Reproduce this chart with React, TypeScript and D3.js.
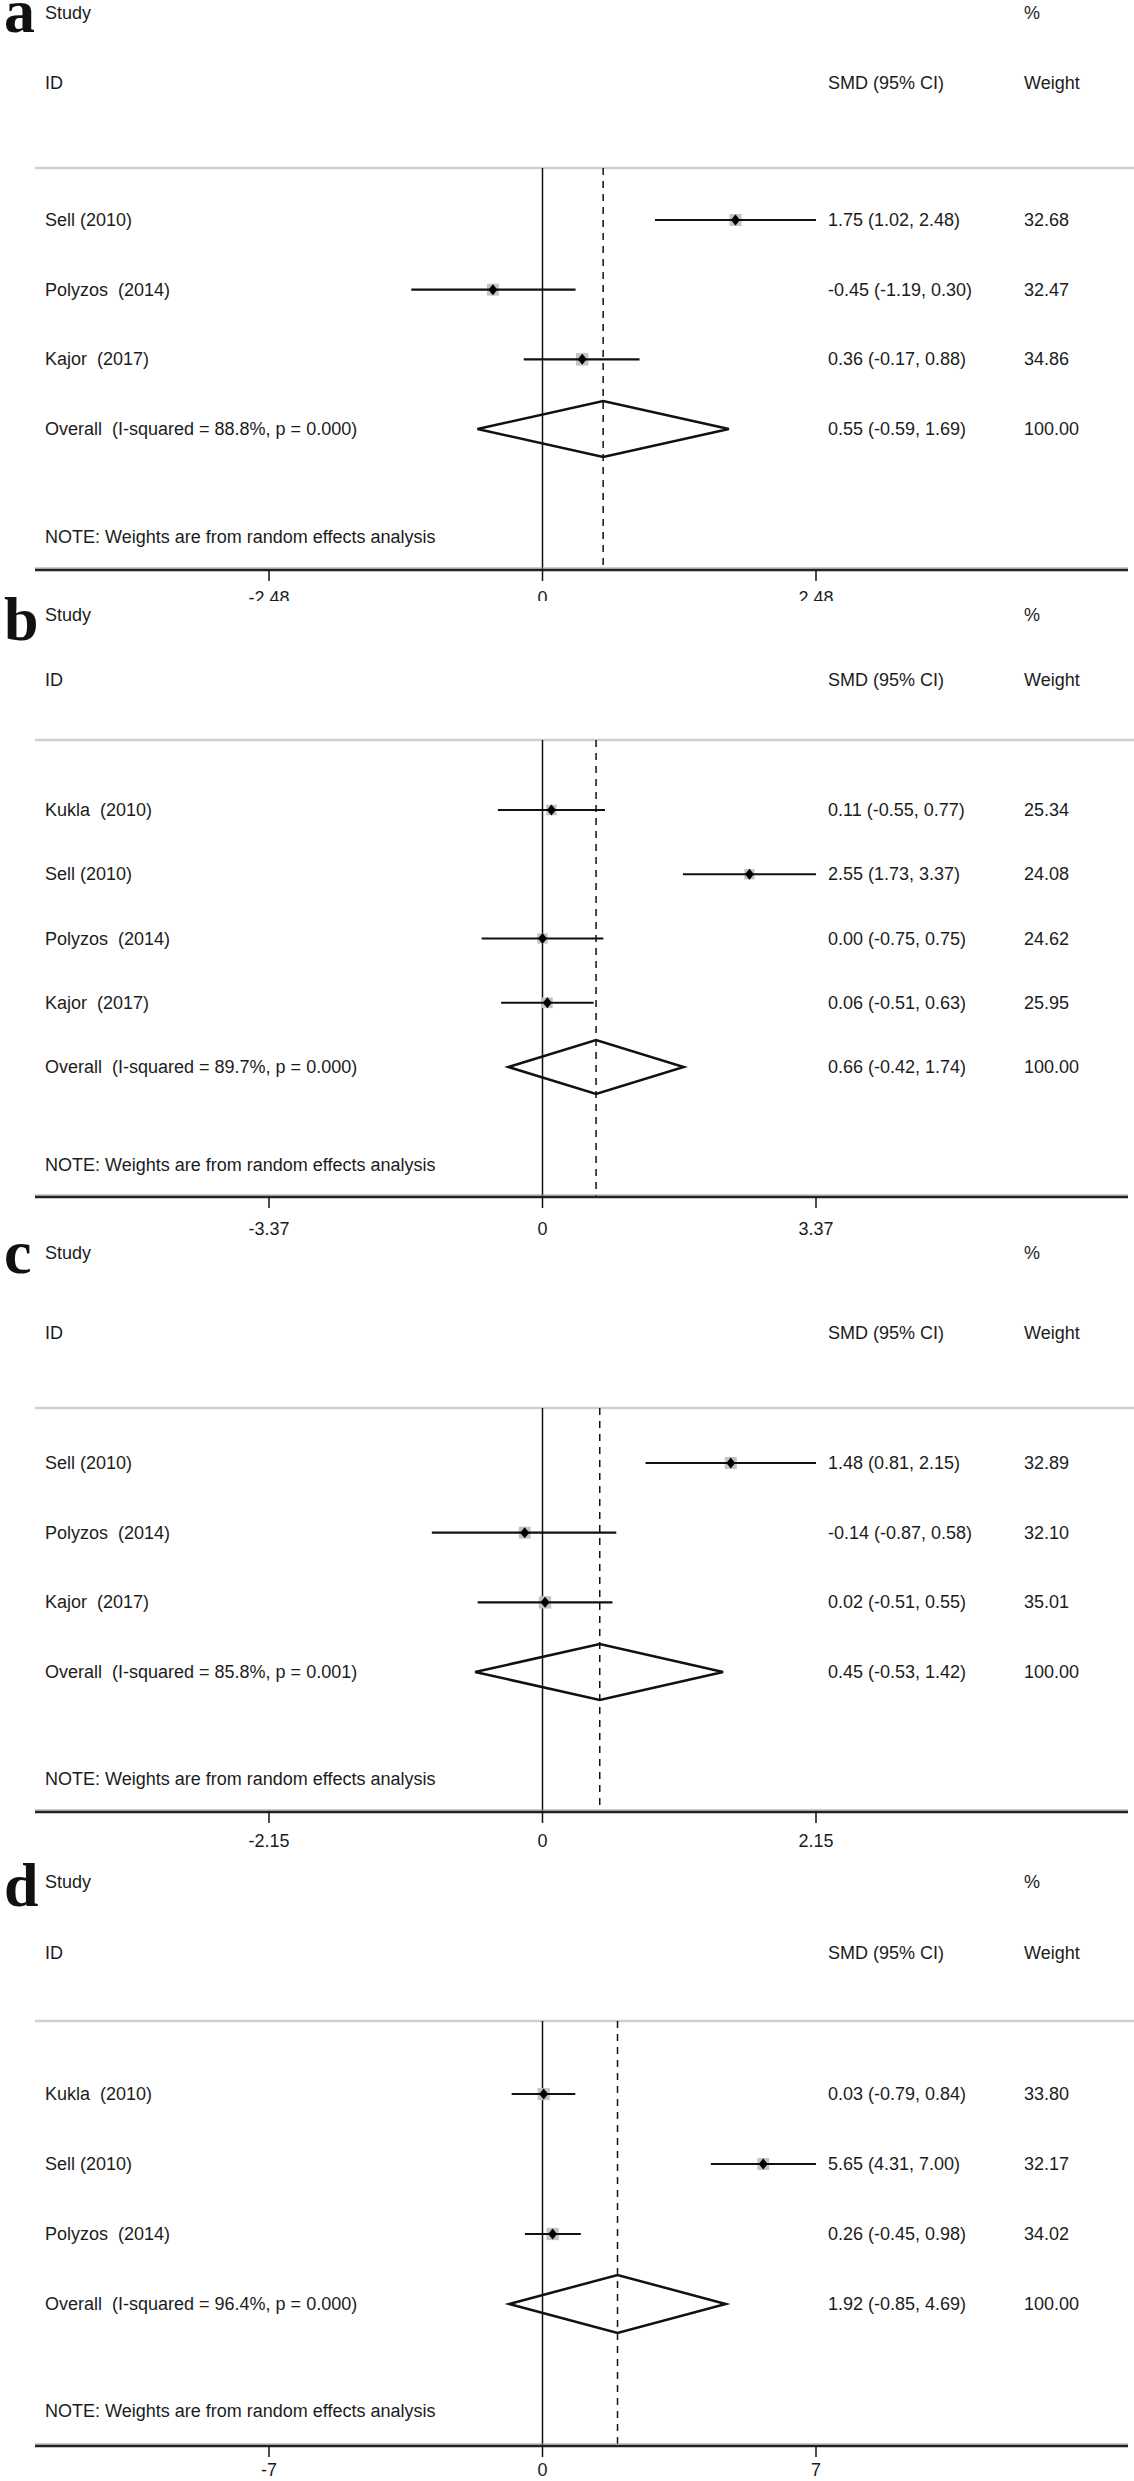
import React from "react";
import * as d3 from "d3";

// ---------- DATA ----------
const studiesA = ["Sell (2010)", "Polyzos  (2014)", "Kajor  (2017)"];
const smdA = [1.75, -0.45, 0.36];
const lowerA = [1.02, -1.19, -0.17];
const upperA = [2.48, 0.3, 0.88];
const weightA = [32.68, 32.47, 34.86];
const overallA = [0.55, -0.59, 1.69];
const overallLabelA = "Overall  (I-squared = 88.8%, p = 0.000)";
const ticksA = [-2.48, 0, 2.48];

const studiesB = ["Kukla  (2010)", "Sell (2010)", "Polyzos  (2014)", "Kajor  (2017)"];
const smdB = [0.11, 2.55, 0.0, 0.06];
const lowerB = [-0.55, 1.73, -0.75, -0.51];
const upperB = [0.77, 3.37, 0.75, 0.63];
const weightB = [25.34, 24.08, 24.62, 25.95];
const overallB = [0.66, -0.42, 1.74];
const overallLabelB = "Overall  (I-squared = 89.7%, p = 0.000)";
const ticksB = [-3.37, 0, 3.37];

const studiesC = ["Sell (2010)", "Polyzos  (2014)", "Kajor  (2017)"];
const smdC = [1.48, -0.14, 0.02];
const lowerC = [0.81, -0.87, -0.51];
const upperC = [2.15, 0.58, 0.55];
const weightC = [32.89, 32.1, 35.01];
const overallC = [0.45, -0.53, 1.42];
const overallLabelC = "Overall  (I-squared = 85.8%, p = 0.001)";
const ticksC = [-2.15, 0, 2.15];

const studiesD = ["Kukla  (2010)", "Sell (2010)", "Polyzos  (2014)"];
const smdD = [0.03, 5.65, 0.26];
const lowerD = [-0.79, 4.31, -0.45];
const upperD = [0.84, 7.0, 0.98];
const weightD = [33.8, 32.17, 34.02];
const overallD = [1.92, -0.85, 4.69];
const overallLabelD = "Overall  (I-squared = 96.4%, p = 0.000)";
const ticksD = [-7, 0, 7];

const noteText = "NOTE: Weights are from random effects analysis";

// ---------- LAYOUT ----------
const W = 1134;
const H = 2481;
const FONT = "'Liberation Sans', Arial, Helvetica, sans-serif";
const TXT = "#1c1c1c";

type Layout = {
  letterY: number; studyY: number; idY: number; greyY: number;
  firstRowY: number; overallY: number; noteY: number; axisY: number; tickLabelY: number;
  halfDiamond: number; clipBottom?: number;
};

const layouts: Layout[] = [
  { letterY: 32, studyY: 13, idY: 83, greyY: 168, firstRowY: 220, overallY: 429, noteY: 537, axisY: 570, tickLabelY: 598, halfDiamond: 28, clipBottom: 601 },
  { letterY: 640, studyY: 615, idY: 680, greyY: 740, firstRowY: 810, overallY: 1067, noteY: 1165, axisY: 1197, tickLabelY: 1229, halfDiamond: 27 },
  { letterY: 1273, studyY: 1253, idY: 1333, greyY: 1408, firstRowY: 1463, overallY: 1672, noteY: 1779, axisY: 1812, tickLabelY: 1841, halfDiamond: 28 },
  { letterY: 1906, studyY: 1882, idY: 1953, greyY: 2021, firstRowY: 2094, overallY: 2304, noteY: 2411, axisY: 2446, tickLabelY: 2470, halfDiamond: 29 },
];

const panels = [
  { letter: "a", studies: studiesA, smd: smdA, lo: lowerA, hi: upperA, w: weightA, overall: overallA, overallLabel: overallLabelA, ticks: ticksA },
  { letter: "b", studies: studiesB, smd: smdB, lo: lowerB, hi: upperB, w: weightB, overall: overallB, overallLabel: overallLabelB, ticks: ticksB },
  { letter: "c", studies: studiesC, smd: smdC, lo: lowerC, hi: upperC, w: weightC, overall: overallC, overallLabel: overallLabelC, ticks: ticksC },
  { letter: "d", studies: studiesD, smd: smdD, lo: lowerD, hi: upperD, w: weightD, overall: overallD, overallLabel: overallLabelD, ticks: ticksD },
];

const LABEL_X = 45;
const SMD_X = 828;
const WEIGHT_X = 1024;
const LINE_X0 = 35;
const TICK_PX_LEFT = 269;
const TICK_PX_RIGHT = 816;

const f2 = (v: number) => v.toFixed(2);
const ciText = (m: number, l: number, h: number) => `${f2(m)} (${f2(l)}, ${f2(h)})`;
const tickText = (v: number) => (v === 0 ? "0" : String(v));

function Panel({ p, L, idx }: { p: typeof panels[0]; L: Layout; idx: number }) {
  const tmax = d3.max(p.ticks.map(Math.abs)) as number;
  const x = d3.scaleLinear().domain([-tmax, tmax]).range([TICK_PX_LEFT, TICK_PX_RIGHT]);
  const y = d3.scalePoint<string>().domain([...p.studies.map((_, i) => "s" + i), "overall"]).range([L.firstRowY, L.overallY]);
  const boxSize = d3.scaleSqrt().domain([0, 100]).range([0, 21]);
  const textProps = { fontFamily: FONT, fontSize: 18, fill: TXT, dominantBaseline: "central" as const, style: { whiteSpace: "pre" as const } };
  const oy = y("overall") as number;
  const diamond = d3.line()([
    [x(p.overall[1]), oy],
    [x(p.overall[0]), oy - L.halfDiamond],
    [x(p.overall[2]), oy],
    [x(p.overall[0]), oy + L.halfDiamond],
  ]) + "Z";
  const clipId = `clip-${idx}`;
  return (
    <g clipPath={L.clipBottom ? `url(#${clipId})` : undefined}>
      {L.clipBottom && (
        <defs>
          <clipPath id={clipId}>
            <rect x={0} y={0} width={W} height={L.clipBottom} />
          </clipPath>
        </defs>
      )}
      <text x={4} y={L.letterY} fontFamily="'Liberation Serif', 'Times New Roman', serif" fontWeight="bold" fontSize={62} fill="#111">
        {p.letter}
      </text>
      <text x={LABEL_X} y={L.studyY} {...textProps}>Study</text>
      <text x={WEIGHT_X} y={L.studyY} {...textProps}>%</text>
      <text x={LABEL_X} y={L.idY} {...textProps}>ID</text>
      <text x={SMD_X} y={L.idY} {...textProps}>SMD (95% CI)</text>
      <text x={WEIGHT_X} y={L.idY} {...textProps}>Weight</text>
      <line x1={LINE_X0} x2={W} y1={L.greyY} y2={L.greyY} stroke="#cfcfcf" strokeWidth={2.5} />
      {/* null line */}
      <line x1={x(0)} x2={x(0)} y1={L.greyY} y2={L.axisY} stroke="#111" strokeWidth={1.5} />
      {/* overall dashed line */}
      <line x1={x(p.overall[0])} x2={x(p.overall[0])} y1={L.greyY} y2={L.axisY} stroke="#111" strokeWidth={1.5} strokeDasharray="7,6" />
      {p.studies.map((s, i) => {
        const yy = y("s" + i) as number;
        const cx = x(p.smd[i]);
        const bs = boxSize(p.w[i]);
        return (
          <g key={i}>
            <text x={LABEL_X} y={yy} {...textProps}>{s}</text>
            <rect x={cx - bs / 2} y={yy - bs / 2} width={bs} height={bs} fill="#c4c4c4" />
            <line x1={x(p.lo[i])} x2={x(p.hi[i])} y1={yy} y2={yy} stroke="#111" strokeWidth={2.2} />
            <path d={`M${cx - 4.5},${yy}L${cx},${yy - 5.5}L${cx + 4.5},${yy}L${cx},${yy + 5.5}Z`} fill="#000" />
            <text x={SMD_X} y={yy} {...textProps}>{ciText(p.smd[i], p.lo[i], p.hi[i])}</text>
            <text x={WEIGHT_X} y={yy} {...textProps}>{f2(p.w[i])}</text>
          </g>
        );
      })}
      <text x={LABEL_X} y={oy} {...textProps}>{p.overallLabel}</text>
      <path d={diamond} fill="none" stroke="#111" strokeWidth={2.5} />
      <text x={SMD_X} y={oy} {...textProps}>{ciText(p.overall[0], p.overall[1], p.overall[2])}</text>
      <text x={WEIGHT_X} y={oy} {...textProps}>{f2(100)}</text>
      <text x={LABEL_X} y={L.noteY} {...textProps}>{noteText}</text>
      {/* axis */}
      <line x1={LINE_X0} x2={W - 6} y1={L.axisY - 2} y2={L.axisY - 2} stroke="#9a9a9a" strokeWidth={1.2} />
      <line x1={LINE_X0} x2={W - 6} y1={L.axisY} y2={L.axisY} stroke="#222" strokeWidth={2.5} />
      {p.ticks.map((t, i) => (
        <g key={i}>
          <line x1={x(t)} x2={x(t)} y1={L.axisY} y2={L.axisY + 11} stroke="#111" strokeWidth={1.5} />
          <text x={x(t)} y={L.tickLabelY} {...textProps} textAnchor="middle">{tickText(t)}</text>
        </g>
      ))}
    </g>
  );
}

export default function App() {
  return (
    <div style={{ position: "absolute", left: 0, top: 0, width: W, height: H, background: "#fff" }}>
      <svg width={W} height={H} viewBox={`0 0 ${W} ${H}`} style={{ display: "block", background: "#fff" }}>
        <rect x={0} y={0} width={W} height={H} fill="#fff" />
        {panels.map((p, i) => (
          <Panel key={i} p={p} L={layouts[i]} idx={i} />
        ))}
      </svg>
    </div>
  );
}
